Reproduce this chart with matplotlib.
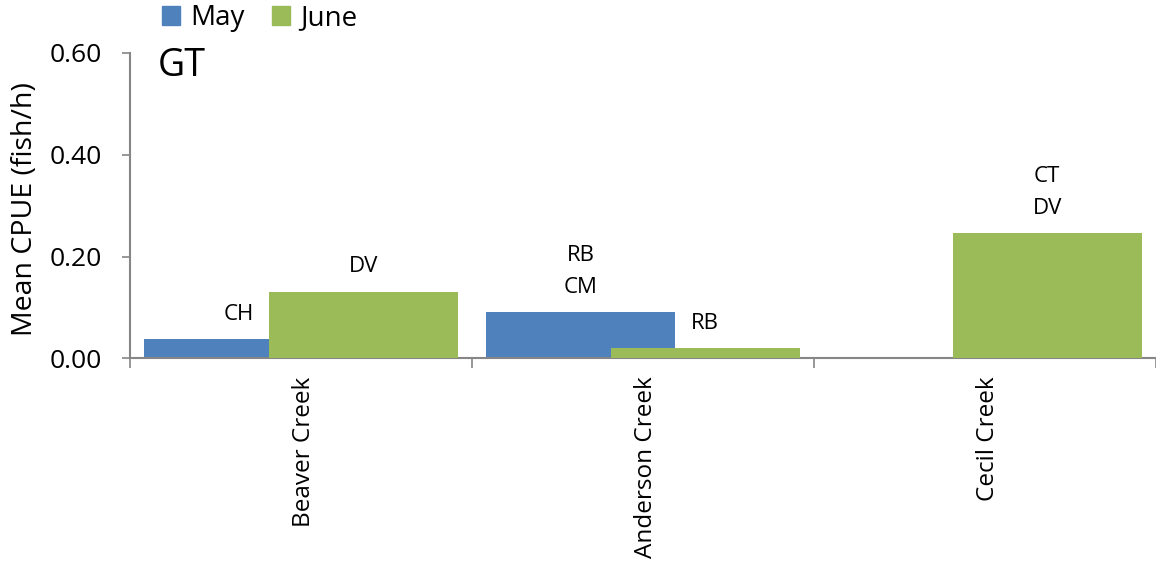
import matplotlib
matplotlib.use("Agg")
import matplotlib.pyplot as plt
from matplotlib.patches import Patch
import matplotlib.transforms as mtrans
import numpy as np

plt.rcParams['font.family'] = ['Open Sans', 'DejaVu Sans']

categories = ["Beaver Creek", "Anderson Creek", "Cecil Creek"]
may = [0.038, 0.091, 0.0]
june = [0.131, 0.020, 0.246]
may_labels = ["CH", "RB\nCM", ""]
june_labels = ["DV", "RB", "CT\nDV"]
series_names = ["May", "June"]
panel_title = "GT"
y_label = "Mean CPUE (fish/h)"
y_ticks = [0.0, 0.2, 0.4, 0.6]

blue = "#4F81BD"
green = "#9BBB59"
axis_gray = "#868686"

W, H = 1156, 561
fig = plt.figure(figsize=(W / 100, H / 100), dpi=100)
left, right = 130 / W, 1.0
bottom = (H - 358.3) / H
top = (H - 53) / H
ax = fig.add_axes([left, bottom, right - left, top - bottom])

x = np.arange(len(categories))
width = 0.552
off = 0.182
ax.bar(x - off, may, width, color=blue, zorder=2)
ax.bar(x + off, june, width, color=green, zorder=3)

for xi, v, lab in zip(x - off, may, may_labels):
    if lab:
        ax.annotate(lab, xy=(xi, v), xytext=(0, 14), textcoords="offset points",
                    ha="center", va="baseline", fontsize=16, linespacing=1.65)
for xi, v, lab in zip(x + off, june, june_labels):
    if lab:
        ax.annotate(lab, xy=(xi, v), xytext=(0, 14), textcoords="offset points",
                    ha="center", va="baseline", fontsize=16, linespacing=1.65)

ax.set_xlim(-0.5, 2.49)
ax.set_ylim(0, 0.6)
ax.set_yticks(y_ticks)
ax.set_yticklabels([f"{t:.2f}" for t in y_ticks], fontsize=19)
ax.tick_params(axis="y", direction="out", length=6, width=1.2, color=axis_gray, pad=14)

ax.set_xticks(x)
ax.set_xticklabels(categories, rotation=90, fontsize=17.5, va="top")
ax.tick_params(axis="x", which="major", length=0, pad=13)
shift = mtrans.ScaledTranslation(3 / 100, 0, fig.dpi_scale_trans)
for lbl in ax.get_xticklabels():
    lbl.set_transform(lbl.get_transform() + shift)
ax.set_xticks([-0.5, 0.5, 1.5, 2.5], minor=True)
ax.tick_params(axis="x", which="minor", direction="out", length=7, width=1.2, color=axis_gray)

for s in ["top", "right"]:
    ax.spines[s].set_visible(False)
for s in ["left", "bottom"]:
    ax.spines[s].set_color(axis_gray)
    ax.spines[s].set_linewidth(1.5)

ax.set_ylabel(y_label, fontsize=20.5)
ax.yaxis.set_label_coords(-(130 - 39) / 1026, 0.49)

fig.text(158 / W, 1 - 76 / H, panel_title, fontsize=27, va="baseline", ha="left")

handles = [Patch(color=blue, label=series_names[0]), Patch(color=green, label=series_names[1])]
fig.legend(handles=handles, ncol=2, loc="center left", bbox_to_anchor=(162 / W, 1 - 18 / H),
           frameon=False, fontsize=20, handlelength=0.65, handleheight=0.65,
           handletextpad=0.35, columnspacing=1.0, borderpad=0, borderaxespad=0)

fig.savefig("out.png", dpi=100)
